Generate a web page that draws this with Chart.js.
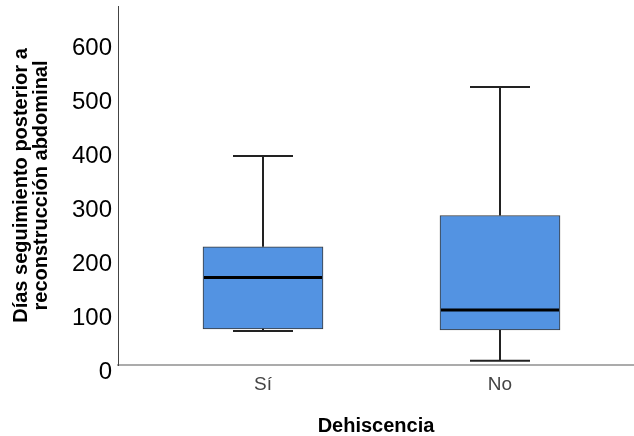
<!DOCTYPE html>
<html><head><meta charset="utf-8">
<script src="https://cdn.jsdelivr.net/npm/chart.js@4"></script>
<style>html,body{margin:0;padding:0;background:#fff;overflow:hidden}</style>
</head><body>
<canvas id="c" width="634" height="436"></canvas>
<script>
// ---- data ----
const categories = ['Sí', 'No'];
const positions = [1, 2];
const whiskerLow = [63, 8];
const q1 = [67, 65];
const median = [162, 102];
const q3 = [219, 277];
const whiskerHigh = [387, 515];
const yTicks = [0, 100, 200, 300, 400, 500, 600];
const yTitle = ['Días seguimiento posterior a', 'reconstrucción abdominal'];
const xTitle = 'Dehiscencia';

const FONT = "'Liberation Sans', Arial, Helvetica, sans-serif";
const BOX_W = 120, CAP_HALF = 30;

const boxPlugin = {
  id: 'boxWhiskers',
  afterDatasetsDraw(chart) {
    const {ctx, scales: {x, y}} = chart;
    ctx.save();
    positions.forEach((p, i) => {
      const cx = x.getPixelForValue(p);
      const yLo = y.getPixelForValue(whiskerLow[i]);
      const yQ1 = y.getPixelForValue(q1[i]);
      const yMed = y.getPixelForValue(median[i]);
      const yQ3 = y.getPixelForValue(q3[i]);
      const yHi = y.getPixelForValue(whiskerHigh[i]);
      ctx.strokeStyle = '#222';
      ctx.lineWidth = 2;
      ctx.beginPath();
      ctx.moveTo(cx, yQ3); ctx.lineTo(cx, yHi);
      ctx.moveTo(cx - CAP_HALF, yHi); ctx.lineTo(cx + CAP_HALF, yHi);
      ctx.moveTo(cx, yQ1); ctx.lineTo(cx, yLo);
      ctx.moveTo(cx - CAP_HALF, yLo); ctx.lineTo(cx + CAP_HALF, yLo);
      ctx.stroke();
      ctx.strokeStyle = '#000';
      ctx.lineWidth = 3;
      ctx.beginPath();
      ctx.moveTo(cx - BOX_W / 2 + 1, yMed); ctx.lineTo(cx + BOX_W / 2 - 1, yMed);
      ctx.stroke();
    });
    ctx.restore();
  }
};

new Chart(document.getElementById('c'), {
  type: 'bar',
  data: {
    datasets: [{
      data: positions.map((p, i) => ({x: p, y: [q1[i], q3[i]]})),
      backgroundColor: '#5393e2',
      borderColor: '#3a3a3a',
      borderWidth: 1,
      borderSkipped: false,
      barThickness: BOX_W
    }]
  },
  options: {
    responsive: false,
    animation: false,
    devicePixelRatio: 1,
    layout: {padding: {top: 6, left: 0, right: 0, bottom: 0}},
    plugins: {legend: {display: false}, tooltip: {enabled: false}},
    scales: {
      x: {
        type: 'linear',
        offset: false,
        min: 1 - 145 / 237,
        max: 2 + 134 / 237,
        grid: {display: false, drawTicks: false, offset: false},
        border: {display: true, color: '#ababab', width: 2},
        afterBuildTicks: s => { s.ticks = positions.map(v => ({value: v})); },
        afterFit: s => { s.height = 71; s.paddingLeft = 0; s.paddingRight = 0; },
        ticks: {
          autoSkip: false, maxRotation: 0, padding: 8,
          color: '#444',
          font: {family: FONT, size: 19},
          callback: v => categories[positions.indexOf(v)] ?? ''
        },
        title: {
          display: true, text: xTitle, color: '#000',
          font: {family: FONT, size: 20, weight: 'bold', lineHeight: 1},
          padding: {top: 0, bottom: 0}
        }
      },
      y: {
        type: 'linear',
        min: 0,
        max: 665,
        grid: {display: false, drawTicks: false},
        border: {display: true, color: '#444', width: 1},
        afterBuildTicks: s => { s.ticks = yTicks.map(v => ({value: v})); },
        afterFit: s => { s.width = 118; s.paddingTop = 0; s.paddingBottom = 0; },
        ticks: {
          padding: 6, color: '#000',
          font: {family: FONT, size: 24, lineHeight: '14px'},
          callback: v => ['', String(v)]
        },
        title: {
          display: true, text: yTitle, color: '#000',
          font: {family: FONT, size: 20, weight: 'bold', lineHeight: 1},
          padding: {top: 11, bottom: 0}
        }
      }
    }
  },
  plugins: [boxPlugin]
});
</script>
</body></html>
